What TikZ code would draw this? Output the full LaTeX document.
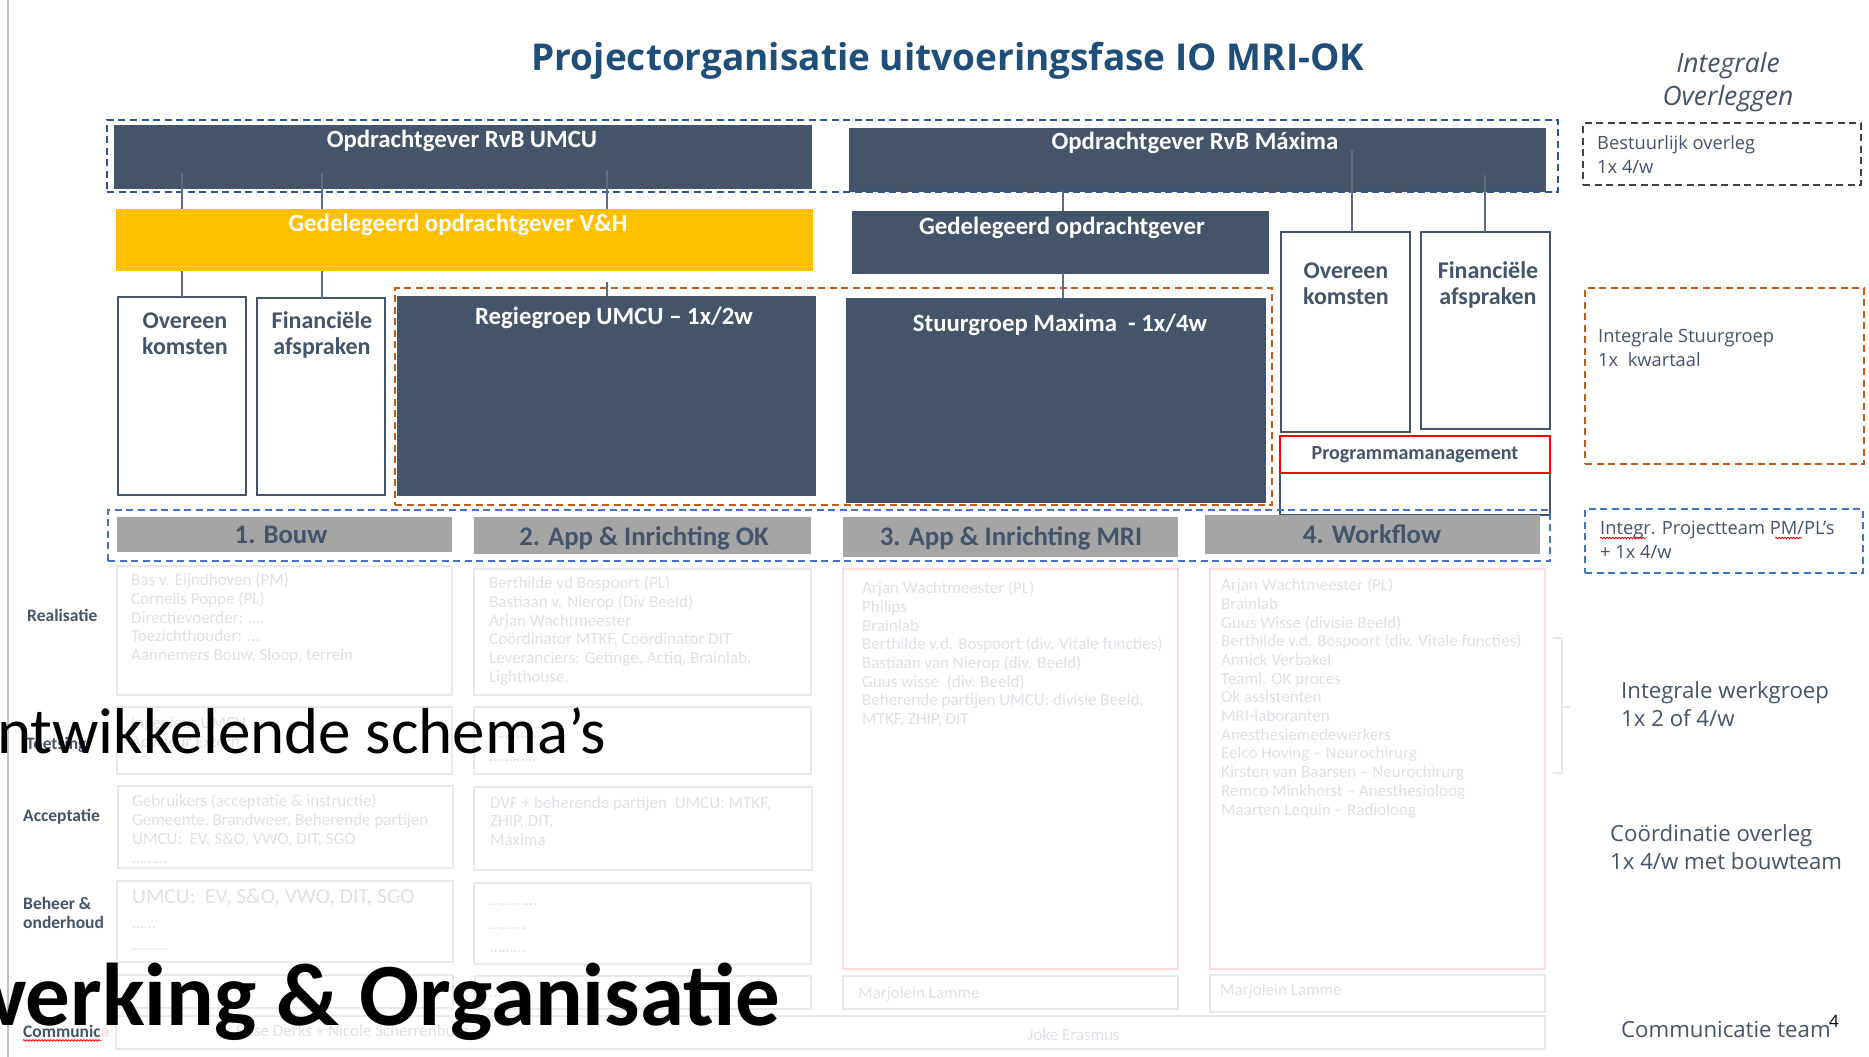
\documentclass[tikz,border=0pt]{standalone}
\usepackage{fontspec}
\setmainfont{Carlito}
\newfontfamily\osans{Open Sans}
\usetikzlibrary{decorations.pathmorphing}
\definecolor{slate}{HTML}{44546A}
\definecolor{gold}{HTML}{FFC000}
\definecolor{hdrgray}{HTML}{A5A5A5}
\definecolor{topblue}{HTML}{2F5597}
\definecolor{rowblue}{HTML}{4472C4}
\definecolor{orng}{HTML}{C55A11}
\definecolor{ttlblue}{HTML}{1F4E79}
\definecolor{faintline}{HTML}{E8E9ED}
\definecolor{fainttext}{HTML}{DFE0E5}
\definecolor{pinkline}{HTML}{FFDCDC}
\definecolor{conn}{HTML}{5E6C80}
\definecolor{dgray}{HTML}{404040}
\newcommand\fs[2]{\fontsize{#1}{#2}\selectfont}
\newcommand\bx[6]{\node[#6, anchor=north west, minimum width={(#4)-(#2)}, minimum height={(#5)-(#3)}, inner sep=0pt, outer sep=0pt] (#1) at (#2,#3) {};}
\tikzset{
 darkbox/.style={fill=slate, draw=slate},
 whitebox/.style={fill=white, draw=slate, line width=2pt},
 hdrbox/.style={fill=hdrgray},
 faintbox/.style={draw=faintline, line width=1.8pt},
 pinkbox/.style={draw=pinkline, line width=1.8pt},
 wlabel/.style={text=white, font=\bfseries\fs{24.8}{29}, inner sep=0pt},
 slabel/.style={text=slate, font=\bfseries\fs{24}{26}, align=center, inner sep=0pt},
 hlabel/.style={text=slate, font=\bfseries\fs{26.8}{30}, inner sep=0pt},
 rowlabel/.style={text=slate, font=\bfseries\fs{17.5}{19}, anchor=west, align=left, inner sep=0pt},
 faint/.style={text=fainttext, font=\fs{17}{18.7}, anchor=north west, align=left, inner sep=0pt},
 fdots/.style={text=fainttext, font=\fs{17}{18.7}, anchor=base west, inner sep=0pt},
 sidetxt/.style={text=slate, font=\osans\fs{18.3}{24}, anchor=west, align=left, inner sep=0pt},
 sidebig/.style={text=slate, font=\osans\fs{22.2}{28.5}, anchor=west, align=left, inner sep=0pt},
 conline/.style={draw=conn, line width=2pt},
 dashfr/.style={line width=2.2pt, dash pattern=on 7pt off 4.5pt},
 squig/.style={draw=red, line width=0.8pt, decorate, decoration={snake, amplitude=0.8pt, segment length=3pt}},
}
\begin{document}
\begin{tikzpicture}[x=1pt,y=-1pt]
\path[use as bounding box, fill=white] (0,0) rectangle (1869,1057);
\draw[black!25, line width=1.2pt] (8,0) -- (8,1057);

% ---------- faint content boxes ----------
\bx{rA}{117}{566}{452}{695}{faintbox}
\bx{rB}{474}{569}{811}{695}{faintbox}
\bx{tA}{117}{707}{452}{774}{faintbox}
\bx{tB}{474}{707}{811}{774}{faintbox}
\bx{aA}{118}{786}{453}{868}{faintbox}
\bx{aB}{474}{787}{812}{870}{faintbox}
\bx{bA}{117}{881}{453}{962}{faintbox}
\bx{bB}{474}{883}{811}{964}{faintbox}
\bx{iA}{117}{975}{453}{1008}{faintbox}
\bx{iB}{475}{976}{811}{1009}{faintbox}
\bx{mriP}{843}{569}{1178}{969}{pinkbox}
\bx{wfP}{1210}{569}{1545}{969}{pinkbox}
\bx{mriM}{843}{976}{1178}{1009}{faintbox}
\bx{wfM}{1210}{975}{1545}{1012}{faintbox}
\bx{comm}{116}{1016}{1545}{1049}{faintbox}

\node[faint] (rAt) at (131,573) {Bas v. Eijndhoven (PM)\\Cornelis Poppe (PL)\\Directievoerder: ….\\Toezichthouder: …\\Aannemers Bouw, Sloop, terrein};
\node[faint] (rBt) at (489,576) {Berthilde vd Bospoort (PL)\\Bastiaan v. Nierop (Div Beeld)\\Arjan Wachtmeester\\Coördinator MTKF, Coördinator DIT\\Leveranciers: Getinge, Actiq, Brainlab,\\Lighthouse,};
\node[faint] (tAt) at (131,717) {Ingenieur UMCU\\Adviseur Extern};
\node[fdots] (tBt1) at (489,738) {…………};
\node[fdots] (tBt2) at (489,761) {…………};
\node[faint, font=\fs{17}{19}] (aAt) at (132,794) {Gebruikers (acceptatie \& instructie)\\Gemeente, Brandweer, Beherende partijen\\UMCU:\ \ EV, S\&O, VWO, DIT, SGO\\………};
\node[faint] (aBt) at (490,796) {DVF + beherende partijen\ \ UMCU: MTKF,\\ZHIP, DIT,\\Máxima};
\node[faint, font=\fs{21.5}{24}] (bAt1) at (132,889) {UMCU:\ \ EV, S\&O, VWO, DIT, SGO};
\node[fdots] (bAt2) at (132,928) {……};
\node[fdots] (bAt3) at (132,950) {………};
\node[fdots] (bBt1) at (490,905) {…………};
\node[fdots] (bBt2) at (490,929) {………};
\node[fdots] (bBt3) at (490,952) {………};
\node[fdots] (iBt) at (490,997) {…};
\node[faint] (mriT) at (862,581) {Arjan Wachtmeester (PL)\\Philips\\Brainlab\\Berthilde v.d. Bospoort (div. Vitale functies)\\Bastiaan van Nierop (div. Beeld)\\Guus wisse\ \ (div. Beeld)\\Beherende partijen UMCU: divisie Beeld,\\MTKF, ZHIP, DIT};
\node[faint] (wfT) at (1221,578) {Arjan Wachtmeester (PL)\\Brainlab\\Guus Wisse (divisie Beeld)\\Berthilde v.d. Bospoort (div. Vitale functies)\\Annick Verbakel\\Teaml. OK proces\\Ok assistenten\\MRI-laboranten\\Anesthesiemedewerkers\\Eelco Hoving – Neurochirurg\\Kirsten van Baarsen – Neurochirurg\\Remco Minkhorst – Anesthesioloog\\Maarten Lequin – Radioloog};
\node[faint, anchor=west] (mriMt) at (858,994) {Marjolein Lamme};
\node[faint, anchor=west] (wfMt) at (1220,991) {Marjolein Lamme};
\node[faint, anchor=center] (jk) at (1074,1035) {Joke Erasmus};
\node[faint, anchor=west] (rd) at (236,1032) {Rose Derks + Nicole Scherrenburg};
\draw[faintline, line width=1.5pt] (1553,638) -- (1562,638) -- (1562,773) -- (1553,773);
\draw[faintline, line width=1.5pt] (1562,707) -- (1570,707);

% ---------- structure boxes ----------
\bx{umcu}{114}{125}{811}{188}{darkbox}
\bx{maxima}{849}{128}{1545}{191}{darkbox}
\bx{vh}{116}{209}{813}{271}{fill=gold}
\bx{gedel}{852}{211}{1268}{273}{darkbox}
\bx{ovL}{118}{297}{246}{495}{whitebox}
\bx{fiL}{257}{298}{385}{495}{whitebox}
\bx{regie}{397}{296}{815}{495}{darkbox}
\bx{stuur}{846}{298}{1265}{502}{darkbox}
\bx{ovR}{1281}{232}{1410}{432}{whitebox}
\bx{fiR}{1421}{232}{1550}{429}{whitebox}
\bx{pmlow}{1280}{473}{1550}{515}{whitebox}
\bx{pm}{1280}{436}{1550}{473}{fill=white, draw=red, line width=2pt}
\bx{h1}{117}{517}{452}{552}{hdrbox}
\bx{h2}{474}{517}{811}{554}{hdrbox}
\bx{h3}{843}{517}{1178}{557}{hdrbox}
\bx{h4}{1205}{515}{1540}{554}{hdrbox}

% ---------- dashed frames ----------
\bx{frTop}{107}{120}{1558}{192}{draw=topblue, dashfr}
\bx{frOr}{395}{288}{1272}{505}{draw=orng, dashfr}
\bx{frRow}{108}{510}{1550}{561}{draw=rowblue, dashfr}
\bx{frBest}{1583}{123}{1861}{185}{draw=dgray, dashfr}
\bx{frStuur}{1585}{288}{1864}{464}{draw=orng, dashfr}
\bx{frProj}{1585}{509}{1863}{573}{draw=rowblue, dashfr}

% ---------- connectors ----------
\coordinate (c1) at (182,173);
\coordinate (c2) at (322,173);
\coordinate (c3) at (607,170);
\coordinate (c3b) at (607,282);
\coordinate (c4) at (1063,191);
\coordinate (c5) at (1352,150);
\coordinate (c6) at (1485,175);
\draw[conline] (c1) -- (c1 |- vh.north);
\draw[conline] (vh.south -| c1) -- (c1 |- ovL.north);
\draw[conline] (c2) -- (c2 |- vh.north);
\draw[conline] (vh.south -| c2) -- (c2 |- fiL.north);
\draw[conline] (c3) -- (c3 |- vh.north);
\draw[conline] (c3b) -- (c3b |- regie.north);
\draw[conline] (c4) -- (c4 |- gedel.north);
\draw[conline] (gedel.south -| c4) -- (c4 |- stuur.north);
\draw[conline] (c5) -- (c5 |- ovR.north);
\draw[conline] (c6) -- (c6 |- fiR.north);

% ---------- labels ----------
\node[wlabel] (umcuL) at (462,141) {Opdrachtgever RvB UMCU};
\node[wlabel] (maxL) at (1195,143) {Opdrachtgever RvB Máxima};
\node[wlabel] (vhL) at (458,225) {Gedelegeerd opdrachtgever V\&H};
\node[wlabel] (gedL) at (1062,228) {Gedelegeerd opdrachtgever};
\node[wlabel] (regL) at (614,318) {Regiegroep UMCU – 1x/2w};
\node[wlabel] (stL) at (1060,325) {Stuurgroep Maxima\ \ - 1x/4w};
\node[slabel] (ovLL) at (185,334) {Overeen\\komsten};
\node[slabel] (fiLL) at (322,335) {Financiële\\afspraken};
\node[slabel] (ovRL) at (1346,284) {Overeen\\komsten};
\node[slabel] (fiRL) at (1488,285) {Financiële\\afspraken};
\node[text=slate, font=\bfseries\fs{20}{22}, inner sep=0pt] (pmL) at (1415,455) {Programmamanagement};
\node[hlabel] (h1L) at (281,535) {1. Bouw};
\node[hlabel] (h2L) at (644,538) {2. App \& Inrichting OK};
\node[hlabel] (h3L) at (1011,538) {3. App \& Inrichting MRI};
\node[hlabel] (h4L) at (1372,534) {4. Workflow};

\node[rowlabel] (lr) at (27,615) {Realisatie};
\node[rowlabel] (lt) at (26,745) {Toetsing};
\node[rowlabel] (la) at (23,817) {Acceptatie};
\node[rowlabel] (lb) at (23,913) {Beheer \&\\onderhoud};
\node[rowlabel] (lc) at (23,1031) {Communic\textcolor{pinkline}{a}};
\draw[squig] (lc.south west) ++(0,3) -- ++(78,0);

% ---------- title and right column ----------
\node[font=\osans\bfseries\fs{37}{42}, text=ttlblue, inner sep=0pt] (title) at (948,61) {Projectorganisatie uitvoeringsfase IO MRI-OK};
\node[font=\osans\itshape\fs{26.5}{33.5}, text=slate, align=center, inner sep=0pt] (io) at (1728,82) {Integrale\\Overleggen};
\node[sidetxt] (best) at (1597,155) {Bestuurlijk overleg\\1x 4/w};
\node[sidetxt] (isg) at (1598,348) {Integrale Stuurgroep\\1x\ \ kwartaal};
\node[sidetxt] (ipt) at (1600,540) {Integr. Projectteam PM/PL’s\\+ 1x 4/w};
\coordinate (sq1) at (1600,538);
\coordinate (sq2) at (1775,538);
\draw[squig] (sq1) -- ++(46,0);
\draw[squig] (sq2) -- ++(27,0);
\node[sidebig] (iwg) at (1621,704) {Integrale werkgroep\\1x 2 of 4/w};
\node[sidebig] (cov) at (1610,847) {Coördinatie overleg\\1x 4/w met bouwteam};
\node[sidebig] (ct) at (1621,1029) {Communicatie team};
\node[font=\osans\fs{17}{20}, inner sep=0pt] (pg) at (1834,1021) {4};

% ---------- overlay texts ----------
\begin{scope}
\clip (0,0) rectangle (1869,1057);
\node[font=\fs{65}{70}, anchor=base west, inner sep=0pt] (ov1) at (-3,753) {ntwikkelende schema’s};
\node[font=\bfseries\fs{89}{96}, anchor=base west, inner sep=0pt] (ov2) at (-40,1025) {werking \& Organisatie};
\end{scope}
\end{tikzpicture}
\end{document}
